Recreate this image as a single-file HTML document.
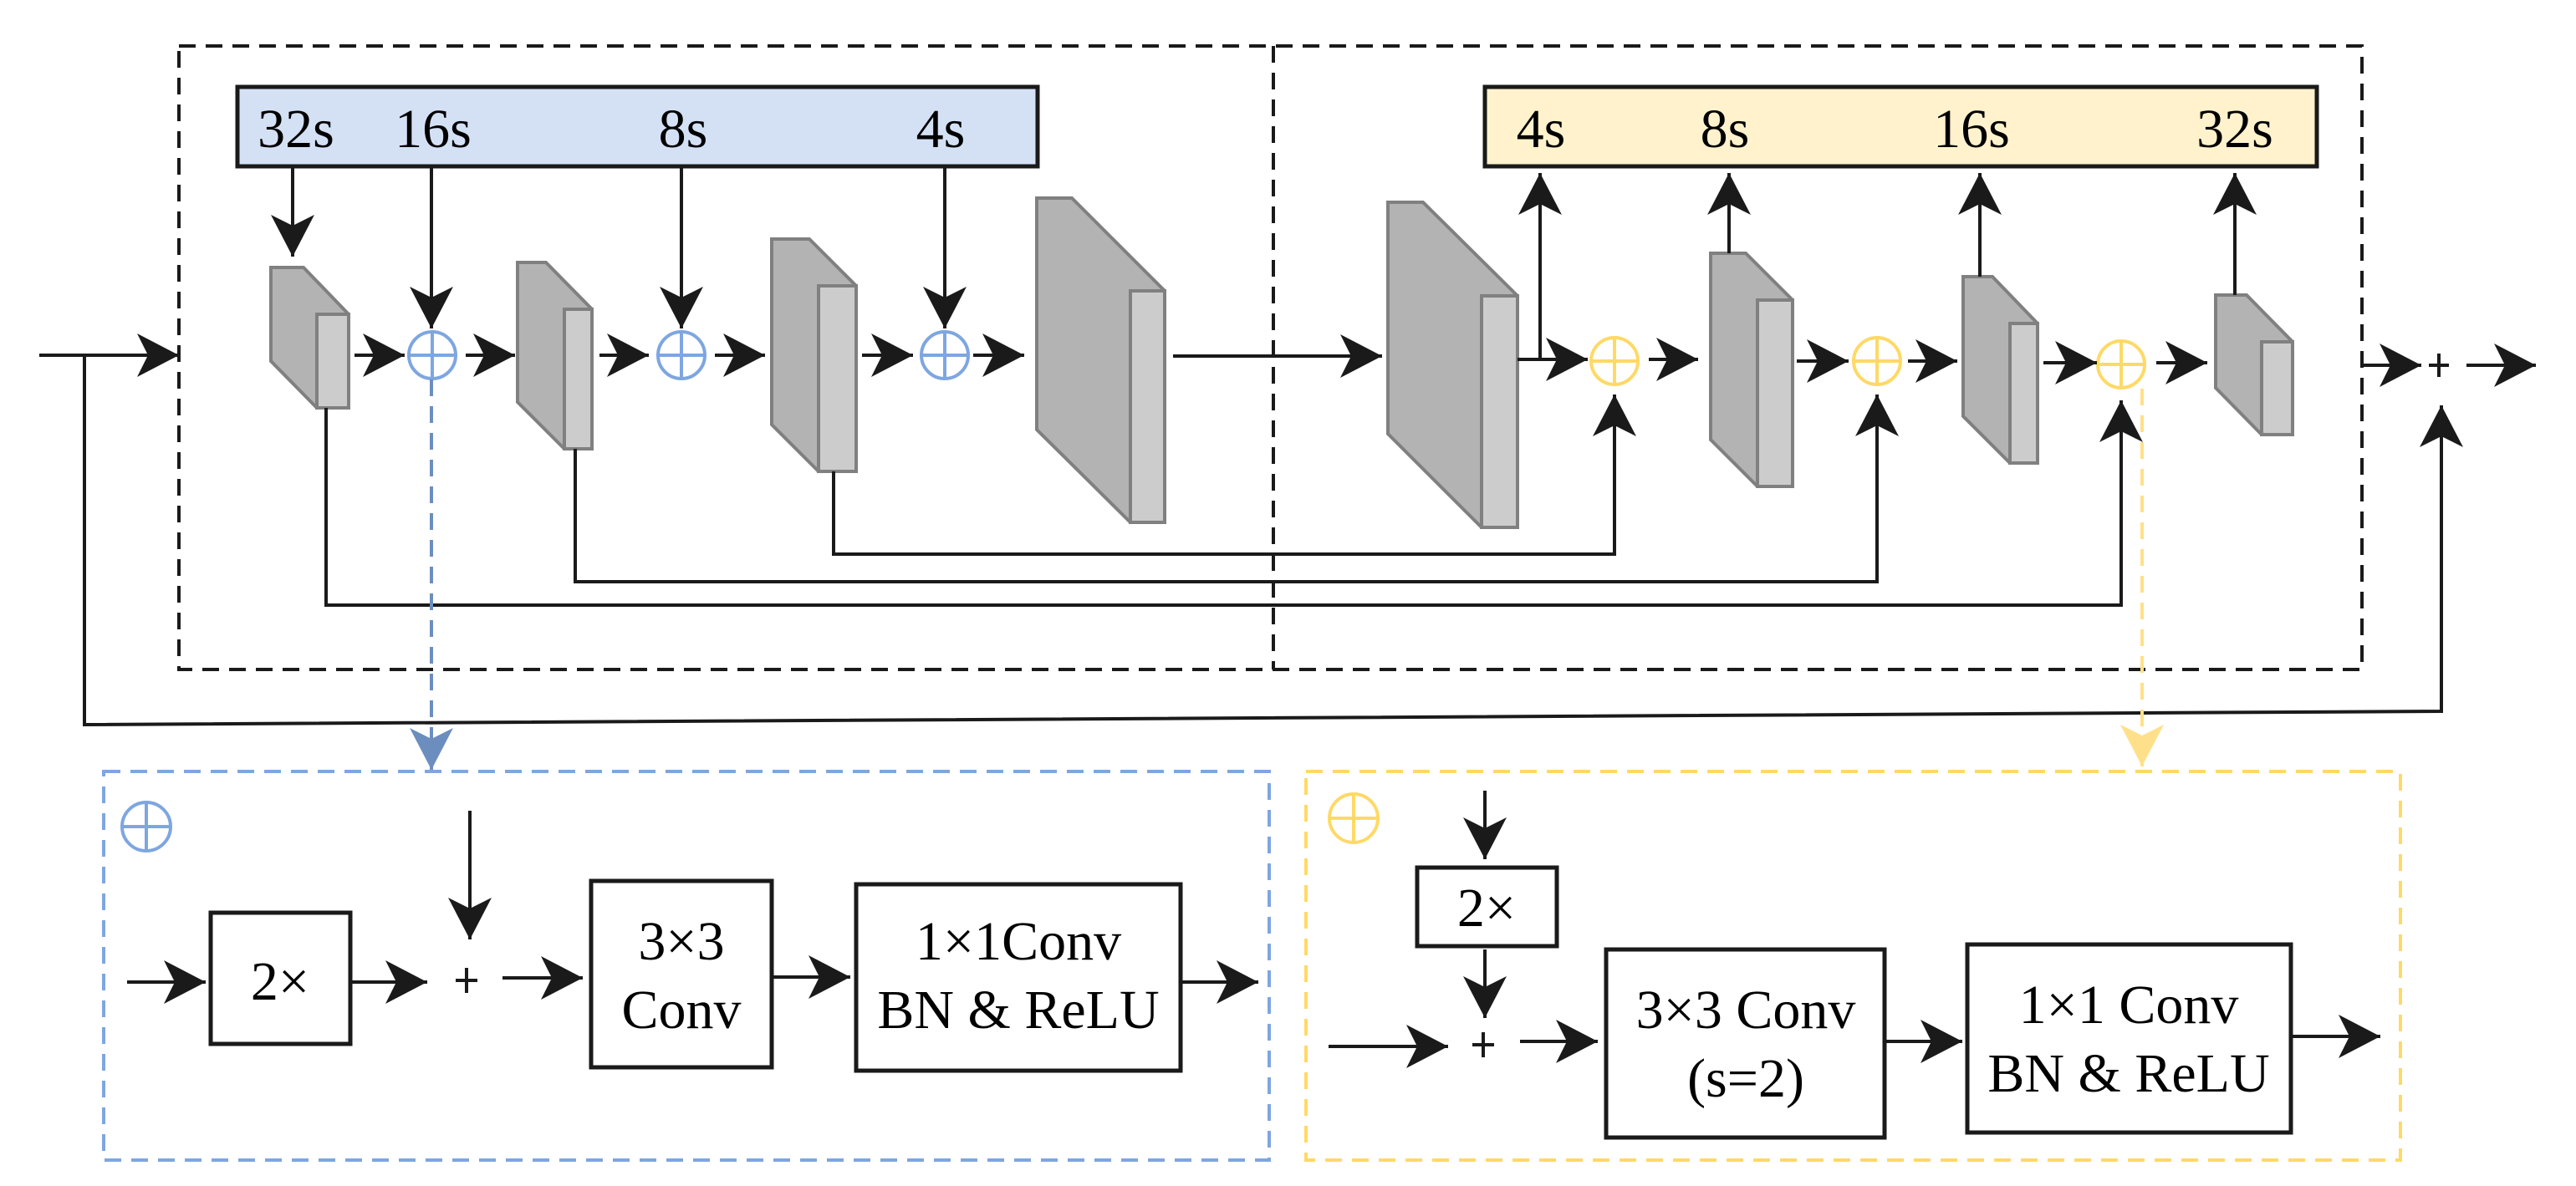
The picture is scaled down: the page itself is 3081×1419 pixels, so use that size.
<!DOCTYPE html>
<html><head><meta charset="utf-8"><style>
html,body{margin:0;padding:0;background:#fff;}
svg{display:block;}
.t{font-family:"Liberation Serif","DejaVu Serif","Times New Roman",serif;fill:#000;}
</style></head><body>
<svg width="3081" height="1419" viewBox="0 0 3081 1419" xmlns="http://www.w3.org/2000/svg">
<defs>
<marker id="a" markerUnits="userSpaceOnUse" markerWidth="10" markerHeight="10" refX="0" refY="0" orient="auto" overflow="visible"><path d="M0,0 L-50,-26 L-37,0 L-50,26 Z" fill="#1a1a1a"/></marker>
<marker id="ab" markerUnits="userSpaceOnUse" markerWidth="10" markerHeight="10" refX="0" refY="0" orient="auto" overflow="visible"><path d="M0,0 L-50,-26 L-37,0 L-50,26 Z" fill="#6c8ebf"/></marker>
<marker id="ay" markerUnits="userSpaceOnUse" markerWidth="10" markerHeight="10" refX="0" refY="0" orient="auto" overflow="visible"><path d="M0,0 L-50,-26 L-37,0 L-50,26 Z" fill="#ffe08a"/></marker>
</defs>

<rect x="214" y="55" width="2611" height="746" fill="none" stroke="#1a1a1a" stroke-width="4" stroke-dasharray="20,12"/>
<line x1="1523" y1="55" x2="1523" y2="801" stroke="#1a1a1a" stroke-width="4" stroke-dasharray="20,12"/>

<rect x="284" y="104" width="957" height="95" fill="#d4e1f5" stroke="#1a1a1a" stroke-width="5"/>
<rect x="1776" y="104" width="995" height="95" fill="#fff2cc" stroke="#1a1a1a" stroke-width="5"/>
<g class="t" font-size="66" text-anchor="middle">
<text class="t" x="354" y="176">32s</text><text class="t" x="518" y="176">16s</text><text class="t" x="817" y="176">8s</text><text class="t" x="1125" y="176">4s</text>
<text class="t" x="1843" y="176">4s</text><text class="t" x="2063" y="176">8s</text><text class="t" x="2358" y="176">16s</text><text class="t" x="2673" y="176">32s</text>
</g>

<g stroke="#808080" stroke-width="4" stroke-linejoin="miter">
<polygon points="324,320 363,320 417,376 417,488 379,488 324,432" fill="#b3b3b3"/><rect x="379" y="376" width="38" height="112" fill="#cccccc"/>
<polygon points="619,314 653,314 708,370 708,537 675,537 619,481" fill="#b3b3b3"/><rect x="675" y="370" width="33" height="167" fill="#cccccc"/>
<polygon points="923,286 968,286 1024,342 1024,564 979,564 923,508" fill="#b3b3b3"/><rect x="979" y="342" width="45" height="222" fill="#cccccc"/>
<polygon points="1240,237 1282,237 1393,348 1393,625 1352,625 1240,514" fill="#b3b3b3"/><rect x="1352" y="348" width="41" height="277" fill="#cccccc"/>
<polygon points="1660,242 1702,242 1815,354 1815,631 1772,631 1660,519" fill="#b3b3b3"/><rect x="1772" y="354" width="43" height="277" fill="#cccccc"/>
<polygon points="2046,303 2088,303 2144,359 2144,582 2102,582 2046,526" fill="#b3b3b3"/><rect x="2102" y="359" width="42" height="223" fill="#cccccc"/>
<polygon points="2348,331 2383,331 2437,387 2437,554 2404,554 2348,498" fill="#b3b3b3"/><rect x="2404" y="387" width="33" height="167" fill="#cccccc"/>
<polygon points="2650,353 2687,353 2742,409 2742,520 2705,520 2650,464" fill="#b3b3b3"/><rect x="2705" y="409" width="37" height="111" fill="#cccccc"/>
</g>

<g fill="none" stroke-width="4">
<g stroke="#7ea6e0">
<circle cx="517" cy="425" r="28"/><line x1="489" y1="425" x2="545" y2="425"/><line x1="517" y1="397" x2="517" y2="453"/>
<circle cx="815" cy="425" r="28"/><line x1="787" y1="425" x2="843" y2="425"/><line x1="815" y1="397" x2="815" y2="453"/>
<circle cx="1130" cy="425" r="28"/><line x1="1102" y1="425" x2="1158" y2="425"/><line x1="1130" y1="397" x2="1130" y2="453"/>
<circle cx="175" cy="989" r="29"/><line x1="146" y1="989" x2="204" y2="989"/><line x1="175" y1="960" x2="175" y2="1018"/>
</g>
<g stroke="#ffd966">
<circle cx="1931" cy="432" r="28"/><line x1="1903" y1="432" x2="1959" y2="432"/><line x1="1931" y1="404" x2="1931" y2="460"/>
<circle cx="2245" cy="432" r="28"/><line x1="2217" y1="432" x2="2273" y2="432"/><line x1="2245" y1="404" x2="2245" y2="460"/>
<circle cx="2537" cy="436" r="28"/><line x1="2509" y1="436" x2="2565" y2="436"/><line x1="2537" y1="408" x2="2537" y2="464"/>
<circle cx="1619" cy="979" r="29"/><line x1="1590" y1="979" x2="1648" y2="979"/><line x1="1619" y1="950" x2="1619" y2="1008"/>
</g>
</g>

<g stroke="#1a1a1a" stroke-width="4" fill="none">
<line x1="350" y1="199" x2="350" y2="307" marker-end="url(#a)"/>
<line x1="516" y1="199" x2="516" y2="393" marker-end="url(#a)"/>
<line x1="815" y1="199" x2="815" y2="393" marker-end="url(#a)"/>
<line x1="1130" y1="199" x2="1130" y2="393" marker-end="url(#a)"/>
<line x1="47" y1="425" x2="214" y2="425" marker-end="url(#a)"/>
<line x1="424" y1="425" x2="484" y2="425" marker-end="url(#a)"/>
<line x1="557" y1="425" x2="616" y2="425" marker-end="url(#a)"/>
<line x1="717" y1="425" x2="776" y2="425" marker-end="url(#a)"/>
<line x1="855" y1="425" x2="915" y2="425" marker-end="url(#a)"/>
<line x1="1031" y1="425" x2="1092" y2="425" marker-end="url(#a)"/>
<line x1="1164" y1="425" x2="1225" y2="425" marker-end="url(#a)"/>
<line x1="1403" y1="426" x2="1653" y2="426" marker-end="url(#a)"/>
<polyline points="1842,430 1842,207" marker-end="url(#a)"/>
<line x1="1815" y1="430" x2="1899" y2="430" marker-end="url(#a)"/>
<line x1="1972" y1="430" x2="2031" y2="430" marker-end="url(#a)"/>
<line x1="2149" y1="432" x2="2211" y2="432" marker-end="url(#a)"/>
<line x1="2282" y1="432" x2="2341" y2="432" marker-end="url(#a)"/>
<line x1="2444" y1="434" x2="2508" y2="434" marker-end="url(#a)"/>
<line x1="2579" y1="434" x2="2640" y2="434" marker-end="url(#a)"/>
<line x1="2068" y1="303" x2="2068" y2="207" marker-end="url(#a)"/>
<line x1="2368" y1="331" x2="2368" y2="207" marker-end="url(#a)"/>
<line x1="2673" y1="353" x2="2673" y2="207" marker-end="url(#a)"/>
<polyline points="997,564 997,663 1931,663 1931,472" marker-end="url(#a)"/>
<polyline points="688,537 688,696 2245,696 2245,472" marker-end="url(#a)"/>
<polyline points="390,488 390,724 2537,724 2537,479" marker-end="url(#a)"/>
<polyline points="101,425 101,867 2920,851 2920,485" marker-end="url(#a)"/>
<line x1="2827" y1="437" x2="2896" y2="437" marker-end="url(#a)"/>
<line x1="2950" y1="437" x2="3033" y2="437" marker-end="url(#a)"/>
</g>
<g stroke="#1a1a1a" stroke-width="4">
<line x1="2917" y1="423" x2="2917" y2="451"/><line x1="2905" y1="437" x2="2929" y2="437"/>
<line x1="558" y1="1158" x2="558" y2="1188"/><line x1="545" y1="1173" x2="571" y2="1173"/>
<line x1="1774" y1="1235" x2="1774" y2="1265"/><line x1="1761" y1="1250" x2="1787" y2="1250"/>
</g>

<line x1="516" y1="454" x2="516" y2="921" stroke="#6c8ebf" stroke-width="4" stroke-dasharray="20,12" marker-end="url(#ab)"/>
<line x1="2562" y1="465" x2="2562" y2="917" stroke="#ffe08a" stroke-width="4" stroke-dasharray="20,12" marker-end="url(#ay)"/>

<rect x="124" y="923" width="1394" height="465" fill="none" stroke="#7ea6e0" stroke-width="4" stroke-dasharray="20,12"/>
<rect x="1562" y="923" width="1309" height="465" fill="none" stroke="#ffd966" stroke-width="4" stroke-dasharray="20,12"/>

<g stroke="#1a1a1a" stroke-width="4" fill="none">
<rect x="252" y="1092" width="167" height="157" fill="#fff" stroke-width="5"/>
<rect x="707" y="1054" width="216" height="223" fill="#fff" stroke-width="5"/>
<rect x="1024" y="1058" width="388" height="223" fill="#fff" stroke-width="5"/>
<line x1="152" y1="1175" x2="246" y2="1175" marker-end="url(#a)"/>
<line x1="419" y1="1175" x2="511" y2="1175" marker-end="url(#a)"/>
<line x1="562" y1="970" x2="562" y2="1124" marker-end="url(#a)"/>
<line x1="601" y1="1170" x2="697" y2="1170" marker-end="url(#a)"/>
<line x1="923" y1="1169" x2="1017" y2="1169" marker-end="url(#a)"/>
<line x1="1412" y1="1175" x2="1505" y2="1175" marker-end="url(#a)"/>
</g>
<g class="t" font-size="66" text-anchor="middle">
<text class="t" x="335" y="1196">2×</text>
<text class="t" x="815" y="1148">3×3</text>
<text class="t" x="815" y="1230">Conv</text>
<text class="t" x="1218" y="1148">1×1Conv</text>
<text class="t" x="1218" y="1230">BN &amp; ReLU</text>
</g>

<g stroke="#1a1a1a" stroke-width="4" fill="none">
<rect x="1695" y="1038" width="167" height="94" fill="#fff" stroke-width="5"/>
<rect x="1921" y="1136" width="333" height="225" fill="#fff" stroke-width="5"/>
<rect x="2353" y="1130" width="387" height="225" fill="#fff" stroke-width="5"/>
<line x1="1776" y1="946" x2="1776" y2="1028" marker-end="url(#a)"/>
<line x1="1776" y1="1136" x2="1776" y2="1218" marker-end="url(#a)"/>
<line x1="1589" y1="1252" x2="1732" y2="1252" marker-end="url(#a)"/>
<line x1="1818" y1="1246" x2="1911" y2="1246" marker-end="url(#a)"/>
<line x1="2254" y1="1246" x2="2347" y2="1246" marker-end="url(#a)"/>
<line x1="2740" y1="1240" x2="2847" y2="1240" marker-end="url(#a)"/>
</g>
<g class="t" font-size="66" text-anchor="middle">
<text class="t" x="1778" y="1108">2×</text>
<text class="t" x="2088" y="1230">3×3 Conv</text>
<text class="t" x="2088" y="1312">(s=2)</text>
<text class="t" x="2546" y="1224">1×1 Conv</text>
<text class="t" x="2546" y="1306">BN &amp; ReLU</text>
</g>
</svg>
</body></html>
